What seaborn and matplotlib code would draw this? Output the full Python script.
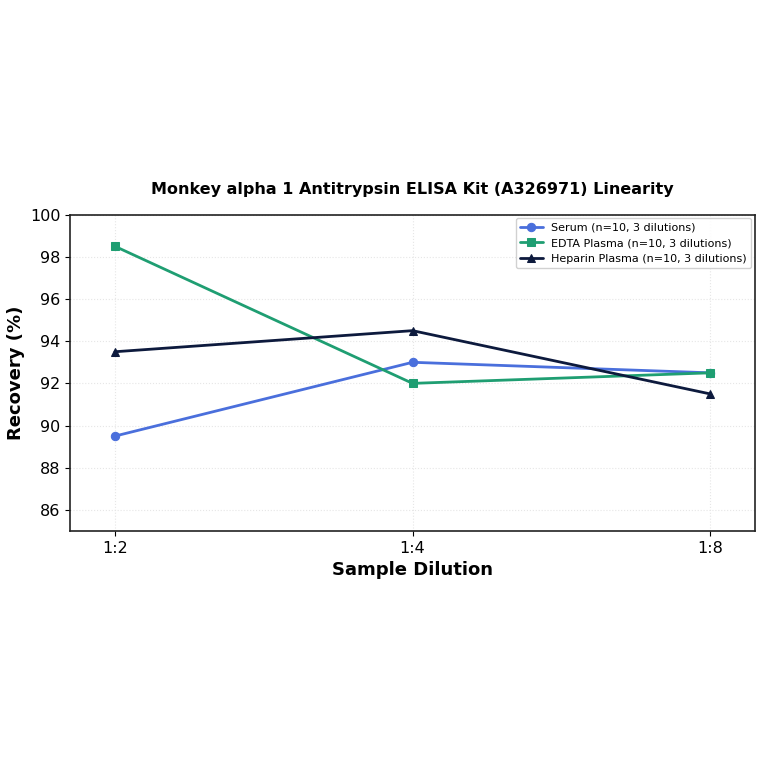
import matplotlib
matplotlib.use("Agg")
import matplotlib.pyplot as plt
import seaborn as sns
import pandas as pd

# Dados
dilutions = ["1:2", "1:4", "1:8"]
serum = [89.5, 93.0, 92.5]
edta = [98.5, 92.0, 92.5]
heparin = [93.5, 94.5, 91.5]

series_names = [
    "Serum (n=10, 3 dilutions)",
    "EDTA Plasma (n=10, 3 dilutions)",
    "Heparin Plasma (n=10, 3 dilutions)",
]

df = pd.DataFrame({
    "dilution": dilutions * 3,
    "recovery": serum + edta + heparin,
    "sample": [n for n in series_names for _ in dilutions],
})
df["x"] = list(range(len(dilutions))) * 3

sns.set_style("ticks")
plt.rcParams["font.family"] = ["DejaVu Sans"]
plt.rcParams["text.color"] = "black"
plt.rcParams["axes.labelcolor"] = "black"
plt.rcParams["xtick.color"] = "black"
plt.rcParams["ytick.color"] = "black"

fig = plt.figure(figsize=(7.64, 7.64), dpi=100)
ax = fig.add_axes([0.092, 0.305, 0.896, 0.414])

colors = ["#4a6fdc", "#1f9e72", "#0d1a3d"]
markers = ["o", "s", "^"]

for name, color, marker in zip(series_names, colors, markers):
    sub = df[df["sample"] == name]
    sns.lineplot(
        data=sub, x="x", y="recovery",
        color=color, marker=marker, markersize=6,
        markeredgecolor=color, linewidth=2,
        label=name, ax=ax
    )

ax.set_xticks(range(len(dilutions)))
ax.set_xticklabels(dilutions)
ax.set_xlim(-0.15, 2.15)
ax.set_ylim(85, 100)
ax.set_yticks([86, 88, 90, 92, 94, 96, 98, 100])
ax.tick_params(labelsize=11.5)

ax.grid(True, color="#e6e6e6", linestyle=":", linewidth=0.8)
for s in ax.spines.values():
    s.set_linewidth(1.2)
    s.set_color("#222222")

ax.set_title(
    "Monkey alpha 1 Antitrypsin ELISA Kit (A326971) Linearity",
    fontsize=11.5, fontweight="bold", pad=15
)
ax.set_xlabel("Sample Dilution", fontsize=13, fontweight="bold")
ax.set_ylabel("Recovery (%)", fontsize=13, fontweight="bold")

ax.legend(loc="upper right", fontsize=8, framealpha=0.9, borderaxespad=0.3)

fig.savefig("out.png", dpi=100)
